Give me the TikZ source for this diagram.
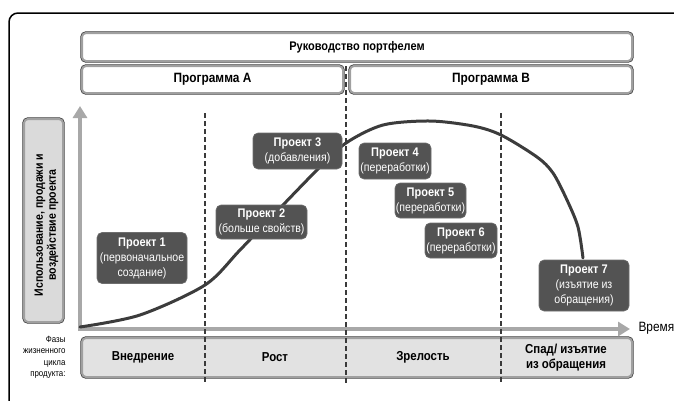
\documentclass[tikz,border=0pt]{standalone}
\usepackage{fontspec}
\setmainfont[FakeStretch=0.88]{Liberation Sans}
\usetikzlibrary{arrows.meta}
\definecolor{projfill}{HTML}{535353}
\definecolor{projedge}{HTML}{6E6E6E}
\definecolor{curvecol}{HTML}{3C3C3C}
\definecolor{axiscol}{HTML}{A8A8A8}
\definecolor{bandcol}{HTML}{A0A0A0}
\definecolor{edgecol}{HTML}{3A3A3A}
\definecolor{phasefill}{HTML}{E2E2E2}
\definecolor{ylabfill}{HTML}{DADADA}
\tikzset{
  framebox/.style={rounded corners=4pt, draw=bandcol, line width=2pt,
    preaction={draw=edgecol, line width=3.4pt},
    inner sep=0pt, align=center, font=\fontsize{12.5}{14}\selectfont\bfseries},
  proj/.style={rounded corners=5pt, fill=projfill, draw=projedge, line width=0.6pt,
    text=white, align=center, inner sep=0pt,
    font=\fontsize{12}{15}\selectfont},
  phaselab/.style={align=center, font=\fontsize{13}{15}\selectfont\bfseries},
  divider/.style={draw=edgecol, line width=1.2pt, dash pattern=on 5pt off 3pt},
  axis/.style={draw=axiscol, line width=4pt, -{Triangle[width=14pt,length=12pt]}},
  curve/.style={draw=curvecol, line width=3pt, line cap=round}
}
\newcommand{\ptl}[1]{{\fontsize{12.5}{15}\selectfont\bfseries #1}}
\begin{document}
\begin{tikzpicture}[x=1pt,y=-1pt]
\useasboundingbox (0,0) rectangle (674,400);
% outer frame
\draw[line width=1.5pt, rounded corners=9pt] (9,430) -- (9,13) -- (700,13);

% top boxes
\node[framebox, fill=white, minimum width=550pt, minimum height=28pt] (port) at (357,47) {Руководство портфелем};
\node[framebox, fill=white, minimum width=261pt, minimum height=27pt, font=\fontsize{13.5}{15}\selectfont\bfseries] (progA) at (212.5,79.5) {Программа A};
\node[framebox, fill=white, minimum width=282pt, minimum height=27pt, font=\fontsize{13.5}{15}\selectfont\bfseries] (progB) at (491,79.5) {Программа B};

% y label box
\node[framebox, fill=ylabfill, minimum width=39pt, minimum height=203pt] (ylab) at (43.5,220.5) {};
\node[rotate=90, align=center, font=\fontsize{12}{13}\selectfont\bfseries] (ylabtext) at (46.5,225) {Использование, продажи и\\воздействие проекта};

% phase box
\node[framebox, fill=phasefill, minimum width=550pt, minimum height=39pt] (phase) at (357,357.5) {};
\node[phaselab] (ph1) at (143,357.5) {Внедрение};
\node[phaselab] (ph2) at (275,357.5) {Рост};
\node[phaselab] (ph3) at (423,357.5) {Зрелость};
\node[phaselab] (ph4) at (566,357.5) {Спад/ изъятие\\из обращения};
\node[align=right, anchor=east, font=\fontsize{9}{11.4}\selectfont] (phname) at (69,357.5) {Фазы\\жизненного\\цикла\\продукта:};

% axes
\coordinate (origin) at (80,331);
\coordinate (ytip) at (80,106);
\coordinate (xstart) at (78,329);
\coordinate (xtip) at (630,329);
\draw[axis] (origin) -- (ytip);
\draw[axis] (xstart) -- (xtip);
\node[anchor=west, font=\fontsize{13.5}{15}\selectfont] (time) at (635,328) {Время};

% dividers
\coordinate (d1t) at (205,113); \coordinate (d1b) at (205,383);
\coordinate (d2t) at (346,66);  \coordinate (d2b) at (346,383);
\coordinate (d3t) at (501,113); \coordinate (d3b) at (501,383);
\draw[divider] (d1t) -- (d1b);
\draw[divider] (d2t) -- (d2b);
\draw[divider] (d3t) -- (d3b);

% life-cycle curve
\draw[curve] plot[smooth, tension=0.5] coordinates {
  (80,327) (140,315) (205,285) (240,250) (283,205) (318,169) (346,143)
  (383,125) (430,121) (473,126) (501,135) (537,157) (553,173) (567,200)
  (578,227) (583,258)};

% projects
\node[proj, minimum width=90pt, minimum height=51pt] (p1) at (142,258) {\ptl{Проект 1}\\(первоначальное\\создание)};
\node[proj, minimum width=91pt, minimum height=34pt] (p2) at (261.5,222) {\ptl{Проект 2}\\(больше свойств)};
\node[proj, minimum width=89pt, minimum height=36pt] (p3) at (297.5,151) {\ptl{Проект 3}\\(добавления)};
\node[proj, minimum width=72pt, minimum height=36pt] (p4) at (395,161) {\ptl{Проект 4}\\(переработки)};
\node[proj, minimum width=71pt, minimum height=35pt] (p5) at (430.5,200.5) {\ptl{Проект 5}\\(переработки)};
\node[proj, minimum width=72pt, minimum height=35pt] (p6) at (461,240.5) {\ptl{Проект 6}\\(переработки)};
\node[proj, minimum width=90pt, minimum height=51pt] (p7) at (584,285.5) {\ptl{Проект 7}\\(изъятие из\\обращения)};
\end{tikzpicture}
\end{document}
